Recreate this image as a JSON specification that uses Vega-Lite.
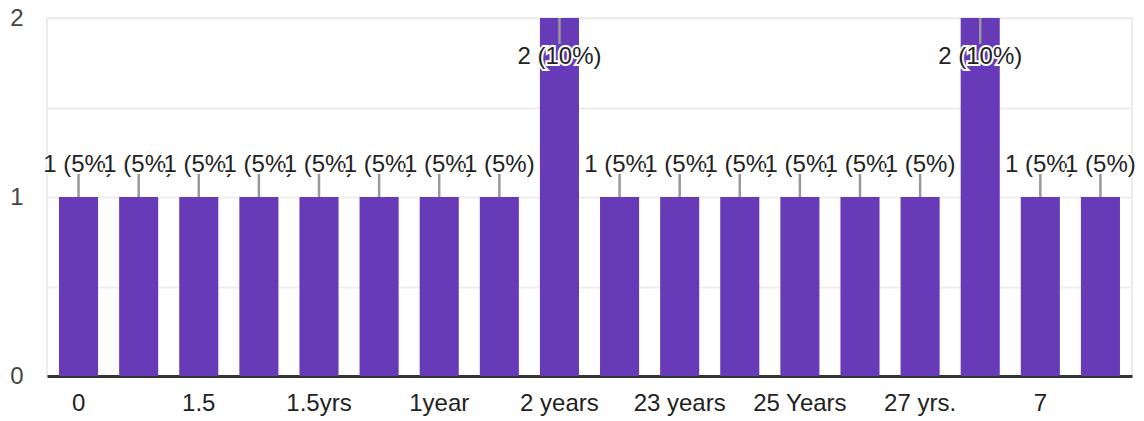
{
  "$schema": "https://vega.github.io/schema/vega-lite/v6.json",
  "width": 1085,
  "height": 358,
  "autosize": {"type": "none"},
  "padding": {"left": 47, "top": 18, "right": 12, "bottom": 45},
  "background": "white",
  "config": {
    "view": {"stroke": "#ebebeb", "strokeWidth": 2},
    "font": "Liberation Sans",
    "text": {"fontSize": 24, "baseline": "alphabetic"}
  },
  "data": {
    "values": [
      {"category": "0", "count": 1, "label": "1 (5%)"},
      {"category": "1", "count": 1, "label": "1 (5%)"},
      {"category": "1.5", "count": 1, "label": "1 (5%)"},
      {"category": "1.5 years", "count": 1, "label": "1 (5%)"},
      {"category": "1.5yrs", "count": 1, "label": "1 (5%)"},
      {"category": "18 months", "count": 1, "label": "1 (5%)"},
      {"category": "1year", "count": 1, "label": "1 (5%)"},
      {"category": "2", "count": 1, "label": "1 (5%)"},
      {"category": "2 years", "count": 2, "label": "2 (10%)"},
      {"category": "20 years", "count": 1, "label": "1 (5%)"},
      {"category": "23 years", "count": 1, "label": "1 (5%)"},
      {"category": "24 years", "count": 1, "label": "1 (5%)"},
      {"category": "25 Years", "count": 1, "label": "1 (5%)"},
      {"category": "26 years", "count": 1, "label": "1 (5%)"},
      {"category": "27 yrs.", "count": 1, "label": "1 (5%)"},
      {"category": "3 years", "count": 2, "label": "2 (10%)"},
      {"category": "7", "count": 1, "label": "1 (5%)"},
      {"category": "8 years", "count": 1, "label": "1 (5%)"}
    ]
  },
  "encoding": {
    "x": {
      "field": "category",
      "type": "nominal",
      "sort": null,
      "scale": {"paddingInner": 0.35, "paddingOuter": 0.2},
      "axis": {
        "title": null,
        "labelAngle": 0,
        "ticks": false,
        "domainColor": "#333333",
        "domainWidth": 3,
        "labelFont": "Liberation Sans",
        "labelFontSize": 24,
        "labelColor": "#222222",
        "labelPadding": 15,
        "labelOverlap": false,
        "labelExpr": "round(datum.index * 17) % 2 == 0 ? datum.label : ''"
      }
    },
    "y": {
      "field": "count",
      "type": "quantitative",
      "scale": {"domain": [0, 2], "nice": false},
      "axis": {
        "title": null,
        "values": [0, 0.5, 1, 1.5, 2],
        "labelExpr": "datum.value % 1 == 0 ? format(datum.value, 'd') : ''",
        "labelOverlap": false,
        "ticks": false,
        "domain": false,
        "gridColor": "#eeeeee",
        "gridWidth": 2,
        "labelFont": "Liberation Sans",
        "labelFontSize": 24,
        "labelColor": "#444444",
        "labelPadding": 24
      }
    }
  },
  "layer": [
    {"mark": {"type": "bar", "color": "#673ab7"}},
    {
      "transform": [{"filter": "datum.count == 1"}],
      "mark": {"type": "rule", "color": "#999999", "strokeWidth": 2.5, "y2Offset": -23},
      "encoding": {"y2": {"field": "count"}}
    },
    {
      "transform": [{"filter": "datum.count == 2"}],
      "mark": {"type": "rule", "color": "#999999", "strokeWidth": 2.5, "y2Offset": 26},
      "encoding": {"y2": {"field": "count"}}
    },
    {
      "transform": [{"filter": {"field": "category", "oneOf": ["0", "20 years", "7"]}}],
      "encoding": {"text": {"field": "label"}},
      "layer": [
        {"mark": {"type": "text", "yOffset": -25, "fill": "white", "stroke": "white", "strokeWidth": 4}},
        {"mark": {"type": "text", "yOffset": -25, "fill": "#222222"}}
      ]
    },
    {
      "transform": [{"filter": {"field": "category", "oneOf": ["1", "23 years", "8 years"]}}],
      "encoding": {"text": {"field": "label"}},
      "layer": [
        {"mark": {"type": "text", "yOffset": -25, "fill": "white", "stroke": "white", "strokeWidth": 4}},
        {"mark": {"type": "text", "yOffset": -25, "fill": "#222222"}}
      ]
    },
    {
      "transform": [{"filter": {"field": "category", "oneOf": ["1.5", "24 years"]}}],
      "encoding": {"text": {"field": "label"}},
      "layer": [
        {"mark": {"type": "text", "yOffset": -25, "fill": "white", "stroke": "white", "strokeWidth": 4}},
        {"mark": {"type": "text", "yOffset": -25, "fill": "#222222"}}
      ]
    },
    {
      "transform": [{"filter": {"field": "category", "oneOf": ["1.5 years", "25 Years"]}}],
      "encoding": {"text": {"field": "label"}},
      "layer": [
        {"mark": {"type": "text", "yOffset": -25, "fill": "white", "stroke": "white", "strokeWidth": 4}},
        {"mark": {"type": "text", "yOffset": -25, "fill": "#222222"}}
      ]
    },
    {
      "transform": [{"filter": {"field": "category", "oneOf": ["1.5yrs", "26 years"]}}],
      "encoding": {"text": {"field": "label"}},
      "layer": [
        {"mark": {"type": "text", "yOffset": -25, "fill": "white", "stroke": "white", "strokeWidth": 4}},
        {"mark": {"type": "text", "yOffset": -25, "fill": "#222222"}}
      ]
    },
    {
      "transform": [{"filter": {"field": "category", "oneOf": ["18 months", "27 yrs."]}}],
      "encoding": {"text": {"field": "label"}},
      "layer": [
        {"mark": {"type": "text", "yOffset": -25, "fill": "white", "stroke": "white", "strokeWidth": 4}},
        {"mark": {"type": "text", "yOffset": -25, "fill": "#222222"}}
      ]
    },
    {
      "transform": [{"filter": {"field": "category", "oneOf": ["1year"]}}],
      "encoding": {"text": {"field": "label"}},
      "layer": [
        {"mark": {"type": "text", "yOffset": -25, "fill": "white", "stroke": "white", "strokeWidth": 4}},
        {"mark": {"type": "text", "yOffset": -25, "fill": "#222222"}}
      ]
    },
    {
      "transform": [{"filter": {"field": "category", "oneOf": ["2"]}}],
      "encoding": {"text": {"field": "label"}},
      "layer": [
        {"mark": {"type": "text", "yOffset": -25, "fill": "white", "stroke": "white", "strokeWidth": 4}},
        {"mark": {"type": "text", "yOffset": -25, "fill": "#222222"}}
      ]
    },
    {
      "transform": [{"filter": "datum.count == 2"}],
      "encoding": {"text": {"field": "label"}},
      "layer": [
        {"mark": {"type": "text", "yOffset": 46, "fill": "white", "stroke": "white", "strokeWidth": 4}},
        {"mark": {"type": "text", "yOffset": 46, "fill": "#222222"}}
      ]
    }
  ]
}
